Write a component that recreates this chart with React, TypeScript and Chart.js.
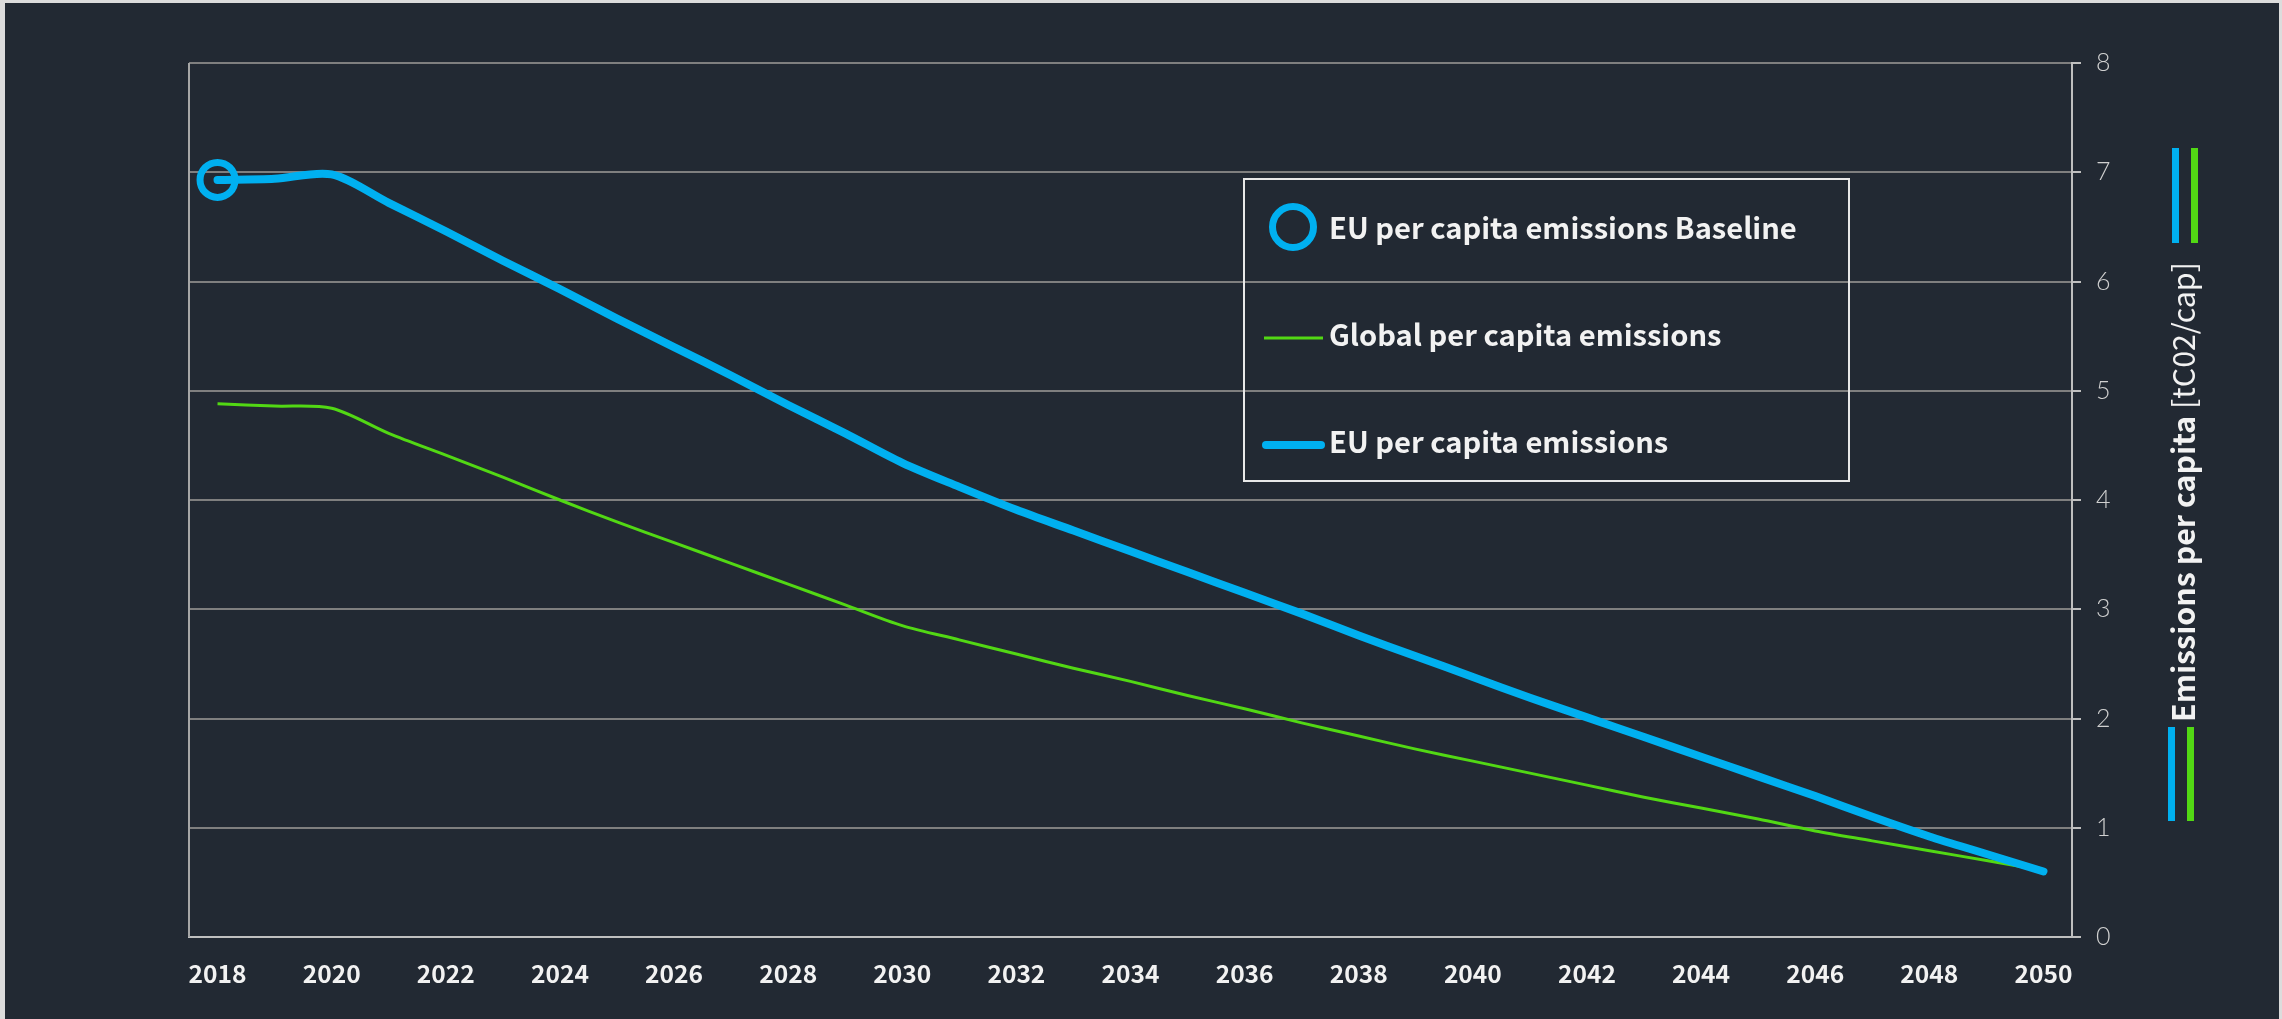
import React, { useEffect, useRef } from 'react';
import { Chart, registerables } from 'chart.js';

Chart.register(...registerables);

// ---- data ----
const years = [
  '2018', '2019', '2020', '2021', '2022', '2023', '2024', '2025', '2026', '2027', '2028',
  '2029', '2030', '2031', '2032', '2033', '2034', '2035', '2036', '2037', '2038', '2039',
  '2040', '2041', '2042', '2043', '2044', '2045', '2046', '2047', '2048', '2049', '2050',
];

const euEmissions = [
  6.93, 6.94, 6.98, 6.72, 6.46, 6.19, 5.93, 5.66, 5.40, 5.14, 4.87,
  4.61, 4.34, 4.12, 3.91, 3.72, 3.53, 3.34, 3.15, 2.96, 2.76, 2.57,
  2.38, 2.19, 2.01, 1.83, 1.65, 1.47, 1.29, 1.10, 0.92, 0.76, 0.60,
];

const globalEmissions = [
  4.88, 4.86, 4.84, 4.61, 4.41, 4.21, 4.00, 3.80, 3.61, 3.42, 3.23,
  3.04, 2.85, 2.72, 2.59, 2.46, 2.34, 2.21, 2.09, 1.96, 1.84, 1.72,
  1.61, 1.50, 1.39, 1.28, 1.18, 1.08, 0.97, 0.88, 0.79, 0.70, 0.61,
];

const baselineYear = '2018';
const baselineValue = 6.93;

const legendLabels = [
  'EU per capita emissions Baseline',
  'Global per capita emissions',
  'EU per capita emissions',
];

const axisTitleMain = 'Emissions per capita';
const axisTitleUnit = '[tC02/cap]';

const yMin = 0;
const yMax = 8;
const yStep = 1;

// ---- styling ----
const BG = '#222933';
const BLUE = '#00b0f0';
const GREEN = '#52d814';
const TEXT = '#f2f2f2';
const FAM = '"Noto Sans CJK JP", "Noto Sans", sans-serif';
const LIGHT_FAM = 'Lato, "Noto Sans", sans-serif';

function measure(font: string, text: string): number {
  const c = document.createElement('canvas').getContext('2d')!;
  c.font = font;
  return c.measureText(text).width;
}

export default function App() {
  const ref = useRef<HTMLCanvasElement | null>(null);

  useEffect(() => {
    const canvas = ref.current;
    if (!canvas) return;

    const xTickSize = (58 * 100) / measure(`bold 100px ${FAM}`, '2050');
    const legendSize = (468 * 100) / measure(`bold 100px ${FAM}`, legendLabels[0]);
    const titleSize =
      (460 * 100) /
      (measure(`bold 100px ${FAM}`, axisTitleMain + ' ') + measure(`normal 100px ${FAM}`, axisTitleUnit));

    const baselineData = years.map((y) => (y === baselineYear ? baselineValue : null));

    const deco = {
      id: 'deco',
      beforeDraw(chart: any) {
        const { ctx, width, height } = chart;
        ctx.save();
        ctx.fillStyle = '#dcdcdc';
        ctx.fillRect(0, 0, width, height);
        ctx.fillStyle = BG;
        ctx.fillRect(5, 3, width - 8, height - 3);
        ctx.restore();
      },
      beforeDatasetsDraw(chart: any) {
        const { ctx, chartArea } = chart;
        ctx.save();
        ctx.strokeStyle = '#a6a6a6';
        ctx.lineWidth = 2;
        ctx.beginPath();
        ctx.moveTo(chartArea.left, chartArea.top);
        ctx.lineTo(chartArea.left, chartArea.bottom);
        ctx.stroke();
        ctx.restore();
      },
      afterDraw(chart: any) {
        const { ctx } = chart;
        ctx.save();
        // legend box
        ctx.strokeStyle = '#e8e8e8';
        ctx.lineWidth = 2;
        ctx.strokeRect(1244, 179, 605, 302);
        // item 1: ring marker
        ctx.strokeStyle = BLUE;
        ctx.lineWidth = 7;
        ctx.beginPath();
        ctx.arc(1293, 227, 20.5, 0, Math.PI * 2);
        ctx.stroke();
        // item 2: thin green line
        ctx.strokeStyle = GREEN;
        ctx.lineWidth = 3;
        ctx.beginPath();
        ctx.moveTo(1264, 338);
        ctx.lineTo(1323, 338);
        ctx.stroke();
        // item 3: thick blue line
        ctx.strokeStyle = BLUE;
        ctx.lineWidth = 8;
        ctx.lineCap = 'round';
        ctx.beginPath();
        ctx.moveTo(1266, 445);
        ctx.lineTo(1321, 445);
        ctx.stroke();
        ctx.lineCap = 'butt';
        // legend text
        ctx.fillStyle = TEXT;
        ctx.font = `bold ${legendSize}px ${FAM}`;
        ctx.textAlign = 'left';
        ctx.textBaseline = 'alphabetic';
        const baselines = [239, 346, 453];
        legendLabels.forEach((t, i) => ctx.fillText(t, 1329, baselines[i]));

        // right axis title (rotated)
        ctx.save();
        ctx.translate(2195, 722);
        ctx.rotate(-Math.PI / 2);
        ctx.fillStyle = TEXT;
        ctx.font = `bold ${titleSize}px ${FAM}`;
        const mainText = axisTitleMain + ' ';
        ctx.fillText(mainText, 0, 0);
        const w = ctx.measureText(mainText).width;
        ctx.font = `normal ${titleSize}px ${FAM}`;
        ctx.fillText(axisTitleUnit, w, 0);
        ctx.restore();

        // colored key bars around the axis title
        ctx.fillStyle = BLUE;
        ctx.fillRect(2172, 148, 7, 95);
        ctx.fillRect(2168, 727, 7, 94);
        ctx.fillStyle = GREEN;
        ctx.fillRect(2191, 148, 7, 95);
        ctx.fillRect(2187, 727, 7, 94);
        ctx.restore();
      },
    };

    const chart = new Chart(canvas, {
      type: 'line',
      data: {
        labels: years,
        datasets: [
          {
            label: legendLabels[0],
            data: baselineData,
            showLine: false,
            pointRadius: 17.5,
            pointBorderWidth: 7,
            pointBorderColor: BLUE,
            pointBackgroundColor: 'rgba(0,0,0,0)',
            borderColor: BLUE,
            order: 0,
          },
          {
            label: legendLabels[1],
            data: globalEmissions,
            borderColor: GREEN,
            borderWidth: 3,
            pointRadius: 0,
            tension: 0.3,
            order: 2,
          },
          {
            label: legendLabels[2],
            data: euEmissions,
            borderColor: BLUE,
            borderWidth: 8,
            borderCapStyle: 'round',
            borderJoinStyle: 'round',
            pointRadius: 0,
            tension: 0.3,
            order: 1,
          },
        ],
      },
      options: {
        responsive: false,
        animation: false,
        devicePixelRatio: 1,
        layout: { padding: { left: 189, top: 63, right: 150, bottom: 22 } },
        plugins: {
          legend: { display: false },
          tooltip: { enabled: false },
        },
        scales: {
          x: {
            type: 'category',
            offset: true,
            grid: { display: false, drawTicks: false },
            border: { display: true, color: '#bfbfbf', width: 2 },
            ticks: {
              autoSkip: false,
              maxRotation: 0,
              padding: 22,
              color: TEXT,
              font: { family: FAM, weight: 'bold', size: xTickSize },
              callback: function (this: any, val: any, idx: number) {
                return idx % 2 === 0 ? this.getLabelForValue(val) : '';
              },
            },
            afterFit: (s: any) => {
              s.height = 60;
            },
          },
          y: {
            position: 'right',
            min: yMin,
            max: yMax,
            grid: {
              color: '#7f7f7f',
              lineWidth: 2,
              drawTicks: true,
              tickLength: 9,
              tickColor: '#bfbfbf',
              tickWidth: 2,
            },
            border: { display: true, color: '#bfbfbf', width: 2 },
            ticks: {
              stepSize: yStep,
              padding: 15,
              color: '#d0d0d0',
              font: { family: LIGHT_FAM, weight: '300', size: 25 },
            },
            afterFit: (s: any) => {
              s.width = 60;
            },
          },
        },
      },
      plugins: [deco],
    } as any);

    return () => chart.destroy();
  }, []);

  return (
    <div style={{ position: 'fixed', left: 0, top: 0, width: 2282, height: 1019 }}>
      <canvas ref={ref} width={2282} height={1019} style={{ display: 'block', width: 2282, height: 1019 }} />
    </div>
  );
}
